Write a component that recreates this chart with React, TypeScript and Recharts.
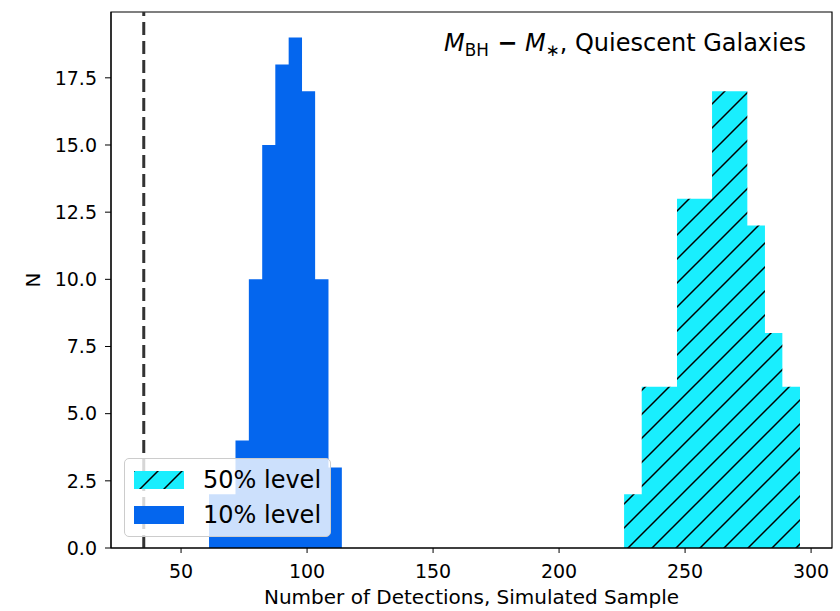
import { ComposedChart, Area, XAxis, YAxis, ReferenceLine, ReferenceArea, Legend, Label } from "recharts";

// histogram bin edges and counts
const lowEdges = [61.1, 66.4, 71.6, 76.9, 82.2, 87.4, 92.7, 98.0, 103.2, 108.5, 113.8];
const lowCounts = [2, 2, 4, 10, 15, 18, 19, 17, 10, 3];
const highEdges = [225.8, 232.8, 239.8, 246.8, 253.8, 260.7, 267.7, 274.7, 281.7, 288.6, 295.6];
const highCounts = [2, 6, 6, 13, 13, 17, 17, 12, 8, 6];
const threshold = 35.2;

const xTicks = [50, 100, 150, 200, 250, 300];
const yTicks = [0, 2.5, 5, 7.5, 10, 12.5, 15, 17.5];
const xDomain = [22.2, 308.3];
const yDomain = [0, 19.95];

const BLUE = "#0466ee";
const CYAN = "#19eefe";
const FONT = "'DejaVu Sans', sans-serif";

// one point per bin edge; last edge closes the step down to zero
const stepPoints = (edges: number[], counts: number[], key: string) =>
  edges.map((x, i) => ({ x, [key]: i < counts.length ? counts[i] : 0 }));

const data = [...stepPoints(lowEdges, lowCounts, "low"), ...stepPoints(highEdges, highCounts, "high")];

const legendRows = [
  { name: "50% level", fill: "url(#hatchLegend)" },
  { name: "10% level", fill: BLUE },
];

const HatchPattern = ({ id }: { id: string }) => (
  <pattern id={id} patternUnits="userSpaceOnUse" width={24} height={24}>
    <rect width={24} height={24} fill={CYAN} />
    <path d="M0,24 L24,0 M-6,6 L6,-6 M18,30 L30,18" stroke="#000" strokeWidth={1.5} />
  </pattern>
);

const renderLegend = () => (
  <div
    style={{
      boxSizing: "border-box",
      width: 207,
      height: 79,
      border: "1px solid #cccccc",
      borderRadius: 5,
      background: "rgba(255,255,255,0.8)",
      padding: "3px 0 0 9px",
      fontFamily: FONT,
      fontSize: 24,
      color: "#000",
    }}
  >
    {legendRows.map((r) => (
      <div key={r.name} style={{ display: "flex", alignItems: "center", height: 35 }}>
        <svg width={50} height={18} style={{ display: "block" }}>
          <defs>
            <HatchPattern id="hatchLegend" />
          </defs>
          <rect width={50} height={18} fill={r.fill} />
        </svg>
        <span style={{ marginLeft: 19, lineHeight: 1 }}>{r.name}</span>
      </div>
    ))}
  </div>
);

export default function App() {
  return (
    <div style={{ position: "absolute", left: 0, top: 0, width: 840, height: 611, background: "#fff" }}>
      <ComposedChart width={840} height={611} data={data} margin={{ top: 12, right: 8, left: 0, bottom: 0 }}>
        <defs>
          <HatchPattern id="hatch" />
        </defs>
        <XAxis
          dataKey="x"
          type="number"
          domain={xDomain}
          ticks={xTicks}
          allowDataOverflow
          height={63}
          stroke="#000"
          tickSize={5}
          tickMargin={12}
          tick={{ fontSize: 19, fill: "#000", fontFamily: FONT }}
        >
          <Label
            value="Number of Detections, Simulated Sample"
            position="insideBottom"
            offset={7}
            style={{ fontSize: 20, fill: "#000", fontFamily: FONT }}
          />
        </XAxis>
        <YAxis
          type="number"
          domain={yDomain}
          ticks={yTicks}
          allowDataOverflow
          width={111}
          stroke="#000"
          tickSize={6}
          tickMargin={8}
          tickFormatter={(v: number) => v.toFixed(1)}
          tick={{ fontSize: 19, fill: "#000", fontFamily: FONT }}
        >
          <Label
            content={({ viewBox }: any) => {
              const cx = viewBox.x + 33;
              const cy = viewBox.y + viewBox.height / 2;
              return (
                <text
                  x={cx}
                  y={cy}
                  transform={`rotate(-90, ${cx}, ${cy})`}
                  textAnchor="middle"
                  dominantBaseline="central"
                  style={{ fontSize: 20, fill: "#000", fontFamily: FONT }}
                >
                  N
                </text>
              );
            }}
          />
        </YAxis>
        <Area
          dataKey="high"
          name={legendRows[0].name}
          type="stepAfter"
          stroke="none"
          fill="url(#hatch)"
          fillOpacity={1}
          isAnimationActive={false}
          dot={false}
          activeDot={false}
        />
        <Area
          dataKey="low"
          name={legendRows[1].name}
          type="stepAfter"
          stroke="none"
          fill={BLUE}
          fillOpacity={1}
          isAnimationActive={false}
          dot={false}
          activeDot={false}
        />
        <ReferenceLine x={threshold} stroke="#333333" strokeWidth={3} strokeDasharray="13 6" />
        {/* axes frame (top and right spines) */}
        <ReferenceArea
          x1={xDomain[0]}
          x2={xDomain[1]}
          y1={yDomain[0]}
          y2={yDomain[1]}
          fill="none"
          stroke="#000"
          strokeWidth={1.2}
          ifOverflow="visible"
        />
        <Legend
          layout="vertical"
          align="center"
          verticalAlign="middle"
          content={renderLegend}
          wrapperStyle={{ left: 124, top: 458, width: 207, height: 79 }}
        />
      </ComposedChart>
      <div
        style={{
          position: "absolute",
          right: 34,
          top: 29,
          fontFamily: FONT,
          fontSize: 24,
          lineHeight: "28px",
          color: "#000",
          whiteSpace: "nowrap",
        }}
      >
        <i>M</i>
        <span style={{ fontSize: "0.7em", position: "relative", top: "0.28em" }}>BH</span>
        <span style={{ fontWeight: "bold" }}>{" \u2212"}</span>
        <i>{" M"}</i>
        <span style={{ fontSize: "0.7em", position: "relative", top: "0.28em" }}>{"\u2217"}</span>
        {", Quiescent Galaxies"}
      </div>
    </div>
  );
}
